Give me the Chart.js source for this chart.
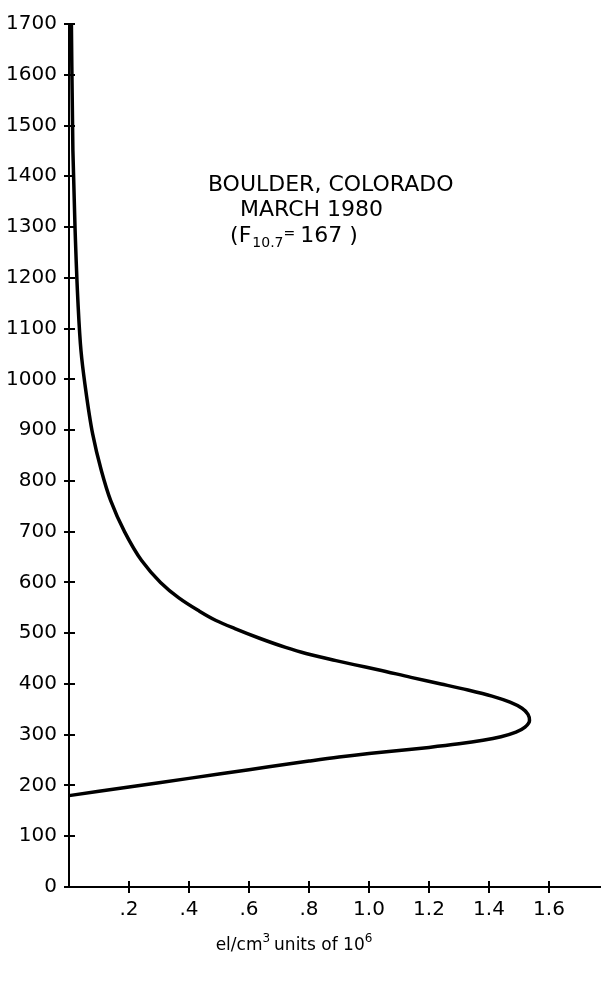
<!DOCTYPE html>
<html>
<head>
<meta charset="utf-8">
<script src="https://cdn.jsdelivr.net/npm/chart.js@4"></script>
<style>
  body { margin: 0; background: #fff; }
  canvas { display: block; }
</style>
</head>
<body>
<canvas id="myChart" width="601" height="986"></canvas>
<script>
// electron density profile (units of 10^6 el/cm3 vs altitude)
const density = [0, 0.2, 0.4, 0.6, 0.8, 0.9, 1.0, 1.1, 1.2, 1.3, 1.38, 1.44, 1.49, 1.52, 1.535, 1.53, 1.51, 1.47, 1.41, 1.33, 1.24, 1.14, 1.03, 0.95, 0.89, 0.79, 0.722, 0.635, 0.553, 0.49, 0.43, 0.365, 0.305, 0.242, 0.185, 0.139, 0.108, 0.079, 0.053, 0.04, 0.03, 0.02, 0.013, 0.008];
const altitude = [180, 197, 214, 231, 248, 256, 263, 269, 275, 282, 289, 296, 305, 315, 328, 340, 352, 364, 376, 388, 400, 413, 428, 438, 446, 460, 472, 490, 509, 525, 545, 570, 600, 643, 700, 761, 820, 892, 991, 1056, 1150, 1300, 1450, 1700];

const xTickValues = [0.2, 0.4, 0.6, 0.8, 1.0, 1.2, 1.4, 1.6];
const xTickLabels = ['.2', '.4', '.6', '.8', '1.0', '1.2', '1.4', '1.6'];
const yTickValues = [0, 100, 200, 300, 400, 500, 600, 700, 800, 900, 1000, 1100, 1200, 1300, 1400, 1500, 1600, 1700];

const FONT = 'DejaVu Sans';

// draws a run of text pieces: [text, size, dy, extra gap]
function drawPieces(ctx, pieces, px, py) {
    pieces.forEach(p => {
        ctx.font = p[1] + 'px "' + FONT + '"';
        ctx.fillText(p[0], px, py + p[2]);
        px += ctx.measureText(p[0]).width + (p[3] || 0);
    });
}

// cross ticks on both axes + the annotation text
const extras = {
    id: 'extras',
    afterDraw(chart) {
        const ctx = chart.ctx;
        const x = chart.scales.x;
        const y = chart.scales.y;
        ctx.save();
        ctx.strokeStyle = '#000';
        ctx.lineWidth = 2;
        ctx.beginPath();
        yTickValues.forEach(v => {
            const py = Math.round(y.getPixelForValue(v));
            ctx.moveTo(x.left - 5, py);
            ctx.lineTo(x.left + 6, py);
        });
        xTickValues.forEach(v => {
            const px = Math.round(x.getPixelForValue(v));
            ctx.moveTo(px, y.bottom - 6);
            ctx.lineTo(px, y.bottom + 6);
        });
        ctx.stroke();

        ctx.fillStyle = '#000';
        ctx.textBaseline = 'middle';
        ctx.textAlign = 'left';
        ctx.font = '22px "' + FONT + '"';
        ctx.fillText('BOULDER, COLORADO', x.getPixelForValue(0.463), y.getPixelForValue(1383));
        ctx.fillText('MARCH 1980', x.getPixelForValue(0.57), y.getPixelForValue(1334));

        // (F10.7= 167)
        drawPieces(ctx, [['(F', 22, 0, 1], ['10.7', 14, 7], ['=', 14, -2, 5], ['167 )', 22, 0]],
            x.getPixelForValue(0.537), y.getPixelForValue(1282));

        // axis title, centred on x = 0.75
        ctx.textBaseline = 'alphabetic';
        const title = [['el/cm', 17, 0], ['3', 12, -8, 4], ['units of 10', 17, 0], ['6', 12, -8]];
        let w = 0;
        title.forEach(p => { ctx.font = p[1] + 'px "' + FONT + '"'; w += ctx.measureText(p[0]).width + (p[3] || 0); });
        drawPieces(ctx, title, x.getPixelForValue(0.75) - w / 2, y.bottom + 63);
        ctx.restore();
    }
};

const ctx = document.getElementById('myChart').getContext('2d');
const myChart = new Chart(ctx, {
    type: 'scatter',
    data: {
        datasets: [{
            label: 'Electron density',
            data: density.map((d, i) => ({ x: d, y: altitude[i] })),
            showLine: true,
            borderColor: '#000',
            borderWidth: 3.5,
            pointRadius: 0,
            cubicInterpolationMode: 'monotone',
            fill: false,
            clip: false
        }]
    },
    options: {
        indexAxis: 'y',
        responsive: false,
        animation: false,
        layout: { padding: { top: 22, right: 1, left: 0, bottom: 0 } },
        plugins: {
            legend: { display: false },
            tooltip: { enabled: false }
        },
        scales: {
            x: {
                type: 'linear',
                min: 0,
                max: 1.77,
                afterBuildTicks: scale => { scale.ticks = xTickValues.map(v => ({ value: v })); },
                afterFit: scale => { scale.height = 99; },
                grid: { display: false, drawTicks: false },
                border: { color: '#000', width: 2 },
                ticks: {
                    padding: 11,
                    color: '#000',
                    font: { family: FONT, size: 20 },
                    maxRotation: 0,
                    autoSkip: false,
                    callback: (v, i) => xTickLabels[i]
                }
            },
            y: {
                type: 'linear',
                min: 0,
                max: 1700,
                afterBuildTicks: scale => { scale.ticks = yTickValues.map(v => ({ value: v })); },
                afterFit: scale => { scale.width = 69; },
                grid: { display: false, drawTicks: false },
                border: { color: '#000', width: 2 },
                ticks: {
                    padding: 12,
                    color: '#000',
                    font: { family: FONT, size: 20 },
                    autoSkip: false,
                    callback: (v, i) => String(yTickValues[i])
                }
            }
        }
    },
    plugins: [extras]
});
</script>
</body>
</html>
